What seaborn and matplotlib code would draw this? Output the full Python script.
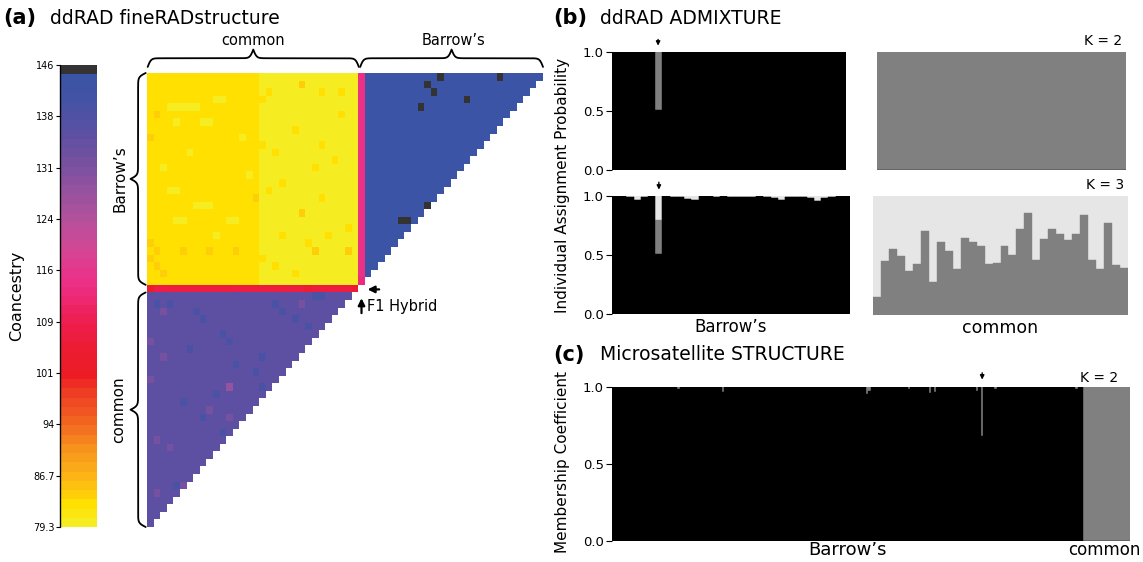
import numpy as np
import matplotlib
matplotlib.use("Agg")
import matplotlib.pyplot as plt
from matplotlib.colors import LinearSegmentedColormap
import seaborn as sns

sns.set_theme(style="white", rc={"text.color": "black", "axes.labelcolor": "black",
                                 "xtick.color": "black", "ytick.color": "black"})
plt.rcParams["font.family"] = ["DejaVu Sans"]

W, H = 1143, 562

# ---------------- (a) ddRAD fineRADstructure ----------------
n_barrows_rows = 28      # Barrow's individuals as rows (top)
n_common_cols = 32       # common individuals as columns (left)
n_barrows_cols = 27
n_common_rows = 31

# colour key
key_values = [79.3, 82.0, 84.0, 87.0, 90.0, 94.0, 98.0, 101.0, 105.0, 109.0, 113.0,
              116.0, 120.0, 124.0, 128.0, 131.0, 135.0, 138.0, 142.0, 145.1, 145.35, 146.0]
key_colors = ["#f6ec22", "#ffe000", "#fdc80c", "#fbad18", "#f7941d", "#f26522", "#ef4123",
              "#ed1c24", "#ec1c34", "#ed1e50", "#ee2a7b", "#e8358c", "#cf4896", "#b4519b",
              "#96529f", "#7f51a0", "#6650a1", "#5451a3", "#4253a5", "#3a54a5", "#333333", "#333333"]
cbar_ticks = [79.3, 86.7, 94.1, 101.5, 108.9, 116.4, 123.8, 131.2, 138.6, 146.0]
cbar_labels = ["79.3", "86.7", "94", "101", "109", "116", "124", "131", "138", "146"]

# Barrow's x common block, per common column
yellow_col_values = [83.2, 82.8, 82.5, 82.3, 82.3, 82.3, 82.3, 82.3, 82.3, 82.3, 82.3, 82.3,
                     82.3, 82.3, 82.3, 82.3, 82.3, 80.6, 80.6, 80.6, 80.6, 80.6, 80.6, 80.6,
                     80.6, 80.6, 80.6, 80.6, 80.6, 80.6, 80.6, 80.6]
yellow_light_cells = [(4, 3), (4, 4), (4, 5), (4, 6), (4, 7), (3, 10), (3, 11), (6, 4), (6, 8),
                      (6, 9), (15, 3), (15, 4), (17, 7), (17, 8), (17, 9), (19, 4), (19, 5),
                      (19, 12), (19, 13), (10, 6), (12, 2), (8, 14), (13, 15), (21, 10)]
yellow_orange_cells = [(5, 1), (23, 1), (1, 23), (18, 23), (16, 16), (23, 5), (23, 9), (23, 13),
                       (23, 25), (23, 30), (25, 1), (24, 0), (26, 2), (8, 0), (22, 0)]
yellow_gold_cells = [(2, 18), (2, 26), (2, 29), (10, 19), (9, 26), (12, 25), (14, 20), (16, 26),
                     (5, 29), (20, 30), (21, 27), (21, 20), (22, 24), (25, 19), (7, 22), (11, 28),
                     (3, 17), (9, 17), (15, 18), (24, 17), (26, 22)]
light_value, orange_value, gold_value = 80.4, 84.0, 82.4

hybrid_row_values = [104, 108, 108, 107, 106, 106, 107, 107, 106, 107, 106, 106, 107, 108, 107, 107,
                     106, 107, 107, 106, 106, 107, 106, 106, 105, 106, 107, 106, 106, 107, 106, 105]
hybrid_col_values = [115.0, 114.5, 114.5, 115.0, 114.0, 114.5, 115.0, 114.5, 114.0, 114.5, 115.0,
                     114.5, 114.5, 114.0, 114.5, 115.0, 114.5, 114.0, 114.5, 114.5, 115.0, 114.5,
                     114.0, 114.5, 114.5, 115.0, 114.5, 113.5]
barrows_level = 143.8
common_level = 135.5
dark_cells = [(0, 44), (0, 53), (1, 42), (2, 43), (3, 48), (4, 41), (17, 42), (19, 38), (19, 39)]
dark_value = 146.0
common_blue_cells = [(1, 1), (1, 3), (3, 8), (2, 7), (5, 11), (6, 12), (1, 19), (2, 20), (4, 24),
                     (0, 25), (0, 26), (10, 16), (8, 17), (12, 17), (13, 10), (14, 5), (16, 8),
                     (25, 4), (18, 11), (7, 6), (3, 22), (9, 13)]
common_purple_cells = [(6, 0), (2, 2), (1, 23), (15, 9), (16, 12), (19, 1), (25, 5), (26, 1),
                       (11, 0), (20, 3), (8, 2)]
common_magenta_cells = [(12, 12)]
blue_value, purple_value, magenta_value = 140.0, 132.0, 128.5

# ---------------- (b) ddRAD ADMIXTURE ----------------
b_hybrid = 6
k2_barrows_black = [1.0, 1.0, 1.0, 1.0, 1.0, 1.0, 0.51, 1.0, 1.0, 1.0, 1.0, 1.0, 1.0, 1.0, 1.0, 1.0,
                    1.0, 1.0, 1.0, 1.0, 1.0, 1.0, 1.0, 1.0, 1.0, 1.0, 1.0, 1.0, 1.0, 1.0, 1.0, 1.0, 1.0]
k2_common_black = [0.0] * 32
k3_barrows_black = [1.0, 1.0, 0.995, 0.965, 0.995, 1.0, 0.51, 1.0, 0.995, 0.99, 0.975, 0.97, 1.0,
                    1.0, 0.995, 1.0, 0.995, 0.995, 0.99, 0.995, 1.0, 0.99, 0.985, 0.965, 0.99,
                    0.995, 0.99, 0.98, 0.96, 0.985, 0.995, 1.0, 1.0]
k3_barrows_grey = [0.0, 0.0, 0.0, 0.0, 0.0, 0.0, 0.29, 0.0, 0.0, 0.0, 0.0, 0.0, 0.0, 0.0, 0.0, 0.0,
                   0.0, 0.0, 0.0, 0.0, 0.0, 0.0, 0.0, 0.0, 0.0, 0.0, 0.0, 0.0, 0.0, 0.0, 0.0, 0.0, 0.0]
k3_common_grey = [0.148, 0.453, 0.553, 0.50, 0.372, 0.425, 0.704, 0.279, 0.612, 0.536, 0.383,
                  0.648, 0.617, 0.581, 0.427, 0.439, 0.578, 0.506, 0.723, 0.855, 0.461, 0.637,
                  0.726, 0.684, 0.628, 0.684, 0.841, 0.466, 0.383, 0.771, 0.419, 0.394]

# ---------------- (c) Microsatellite STRUCTURE ----------------
c_n_barrows = 180
c_n_common = 18
c_hybrid = 141
c_barrows_dips = {25: 0.985, 42: 0.97, 97: 0.955, 98: 0.975, 113: 0.985, 121: 0.96,
                  123: 0.965, 139: 0.975, 141: 0.685, 146: 0.985, 177: 0.99}

BLACK, GREY, LIGHT = "#000000", "#808080", "#e6e6e6"


def px_axes(fig, x0, y0, x1, y1):
    return fig.add_axes([x0 / W, 1 - y1 / H, (x1 - x0) / W, (y1 - y0) / H])


def brace(ax, start, end, base, depth, vertical=False, beta=4.0):
    s = np.linspace(start, end, 401)
    half = s[:201]
    y = 1 / (1 + np.exp(-beta * (half - half[0]))) + 1 / (1 + np.exp(-beta * (half - half[-1])))
    y = np.concatenate([y, y[-2::-1]]) - 0.5
    off = base + depth * y
    if vertical:
        ax.plot(off, s, color="black", lw=1.3, clip_on=False, solid_capstyle="round")
    else:
        ax.plot(s, off, color="black", lw=1.3, clip_on=False, solid_capstyle="round")


def stacked(ax, layers):
    for heights, colour in layers:
        sns.barplot(x=np.arange(len(heights)), y=heights, color=colour, width=1, saturation=1,
                    edgecolor=colour, linewidth=0.3, errorbar=None, ax=ax)
    ax.set_ylim(0, 1)
    ax.set_xlim(-0.5, len(layers[0][0]) - 0.5)
    ax.set_xticks([])
    ax.set_xlabel("")
    ax.set_ylabel("")
    sns.despine(ax=ax, left=True, bottom=True)


def yticks(ax):
    ax.set_yticks([0, 0.5, 1.0], ["0.0", "0.5", "1.0"])
    ax.tick_params(axis="y", left=True, length=4, width=0.8, labelsize=9.5, pad=2)


def down_arrow(ax, x, y0, y1):
    ax.annotate("", xy=(x, y1), xytext=(x, y0), xycoords=("data", "axes fraction"),
                arrowprops=dict(arrowstyle="-|>", color="black", lw=1.0, mutation_scale=6),
                annotation_clip=False)


fig = plt.figure(figsize=(W / 100, H / 100), dpi=100)

# ---- heat map matrix ----
n_rows = n_barrows_rows + 1 + n_common_rows
n_cols = n_common_cols + 1 + n_barrows_cols
hyb_r, hyb_c = n_barrows_rows, n_common_cols
coanc = np.full((n_rows, n_cols), np.nan)
for i in range(n_barrows_rows):
    coanc[i, :n_common_cols] = yellow_col_values
    coanc[i, hyb_c] = hybrid_col_values[i]
    coanc[i, hyb_c + 1:n_cols - i] = barrows_level
coanc[hyb_r, :n_common_cols] = hybrid_row_values
for j in range(n_common_rows):
    coanc[hyb_r + 1 + j, :n_common_rows - j] = common_level
for r, c in yellow_light_cells:
    coanc[r, c] = light_value
for r, c in yellow_orange_cells:
    coanc[r, c] = orange_value
for r, c in yellow_gold_cells:
    coanc[r, c] = gold_value
for r, c in dark_cells:
    coanc[r, c] = dark_value
for cells, v in [(common_blue_cells, blue_value), (common_purple_cells, purple_value),
                 (common_magenta_cells, magenta_value)]:
    for r, c in cells:
        coanc[hyb_r + 1 + r, c] = v

vmin, vmax = key_values[0], key_values[-1]
pos = [(v - vmin) / (vmax - vmin) for v in key_values]
cmap = LinearSegmentedColormap.from_list("coancestry", list(zip(pos, key_colors)), N=50)

ax_hm = px_axes(fig, 147, 73, 543, 527)
cax = px_axes(fig, 60, 65, 97, 527)
sns.heatmap(coanc, cmap=cmap, vmin=vmin, vmax=vmax, ax=ax_hm, cbar_ax=cax,
            xticklabels=False, yticklabels=False, cbar_kws={"ticklocation": "left"})
cbar = ax_hm.collections[0].colorbar
cbar.set_ticks(cbar_ticks, labels=cbar_labels)
cbar.ax.tick_params(labelsize=7, length=3, width=0.8, pad=1, left=True, right=False)
cbar.ax.axvline(cbar.ax.get_xlim()[0], color="black", lw=1.0, clip_on=False)
cbar.set_label("Coancestry", fontsize=11.5, labelpad=6)

# braces and labels around the matrix
brace(ax_hm, 0.1, n_common_cols + 0.1, -0.8, -2.3)
brace(ax_hm, n_common_cols + 0.3, n_cols, -0.8, -2.3)
brace(ax_hm, 0.0, n_barrows_rows, -0.2, -2.3, vertical=True)
brace(ax_hm, n_barrows_rows + 1, n_rows, -0.2, -2.3, vertical=True)
ax_hm.text(n_common_cols / 2, -4.3, "common", ha="center", va="center", fontsize=10.5)
ax_hm.text(n_common_cols + 1 + n_barrows_cols / 2, -4.3, "Barrow’s", ha="center", va="center",
           fontsize=10.5)
ax_hm.text(-4.1, n_barrows_rows / 2, "Barrow’s", rotation=90, ha="center", va="center",
           fontsize=11)
ax_hm.text(-4.3, n_barrows_rows + 1 + n_common_rows / 2, "common", rotation=90, ha="center",
           va="center", fontsize=11)
ax_hm.annotate("", xy=(hyb_c + 1.0, hyb_r + 0.6), xytext=(hyb_c + 3.6, hyb_r + 0.6),
               arrowprops=dict(arrowstyle="-|>", color="black", lw=1.6, mutation_scale=10),
               annotation_clip=False)
ax_hm.annotate("", xy=(hyb_c + 0.5, hyb_r + 1.4), xytext=(hyb_c + 0.5, hyb_r + 4.1),
               arrowprops=dict(arrowstyle="-|>", color="black", lw=1.6, mutation_scale=10),
               annotation_clip=False)
ax_hm.text(hyb_c + 1.4, hyb_r + 2.8, "F1 Hybrid", ha="left", va="center", fontsize=10.5)

# ---- (b) ADMIXTURE ----
n_b, n_c = len(k2_barrows_black), len(k2_common_black)
ax1 = px_axes(fig, 612, 52, 846, 170)
stacked(ax1, [([1.0] * n_b, GREY), (k2_barrows_black, BLACK)])
yticks(ax1)
down_arrow(ax1, b_hybrid, 1.13, 1.03)

ax2 = px_axes(fig, 877, 52, 1126, 170)
stacked(ax2, [([1.0] * n_c, GREY), (k2_common_black, BLACK)])
ax2.set_yticks([])
ax2.text(0.985, 1.03, "K = 2", transform=ax2.transAxes, ha="right", va="bottom", fontsize=10)

k3_b_top = [b + g for b, g in zip(k3_barrows_black, k3_barrows_grey)]
ax3 = px_axes(fig, 612, 196, 850, 314)
stacked(ax3, [([1.0] * n_b, LIGHT), (k3_b_top, GREY), (k3_barrows_black, BLACK)])
yticks(ax3)
down_arrow(ax3, b_hybrid, 1.14, 1.03)
ax3.text(0.5, -0.11, "Barrow’s", transform=ax3.transAxes, ha="center", va="center", fontsize=12)

ax4 = px_axes(fig, 873, 196, 1128, 315)
stacked(ax4, [([1.0] * n_c, LIGHT), (k3_common_grey, GREY)])
ax4.set_yticks([])
ax4.text(0.985, 1.03, "K = 3", transform=ax4.transAxes, ha="right", va="bottom", fontsize=10)
ax4.text(0.5, -0.11, "common", transform=ax4.transAxes, ha="center", va="center", fontsize=12.5)

fig.text(563 / W, 1 - 185 / H, "Individual Assignment Probability", rotation=90,
         ha="center", va="center", fontsize=11)

# ---- (c) STRUCTURE ----
c_black = np.concatenate([np.ones(c_n_barrows), np.zeros(c_n_common)])
for k, v in c_barrows_dips.items():
    c_black[k] = v
ax5 = px_axes(fig, 612, 387, 1130, 541)
stacked(ax5, [(np.ones(c_n_barrows + c_n_common), GREY), (c_black, BLACK)])
yticks(ax5)
down_arrow(ax5, c_hybrid, 1.11, 1.03)
ax5.text(0.977, 1.015, "K = 2", transform=ax5.transAxes, ha="right", va="bottom", fontsize=10)
ax5.text((c_n_barrows - 1) / 2, -0.06, "Barrow’s", transform=ax5.get_xaxis_transform(),
         ha="center", va="center", fontsize=13)
ax5.text(c_n_barrows + (c_n_common - 1) / 2 - 1, -0.06, "common",
         transform=ax5.get_xaxis_transform(), ha="center", va="center", fontsize=12)
fig.text(563 / W, 1 - 462 / H, "Membership Coefficient", rotation=90,
         ha="center", va="center", fontsize=11)

# ---- panel titles ----
for x, y, tag, title in [(3, 18, "(a)", "ddRAD fineRADstructure"),
                         (553, 18, "(b)", "ddRAD ADMIXTURE"),
                         (553, 355, "(c)", "Microsatellite STRUCTURE")]:
    fig.text(x / W, 1 - y / H, tag, fontsize=15, fontweight="bold", ha="left", va="center")
    fig.text((x + 47) / W, 1 - y / H, title, fontsize=13.5, ha="left", va="center")

fig.savefig("out.png", dpi=100, facecolor="white")
